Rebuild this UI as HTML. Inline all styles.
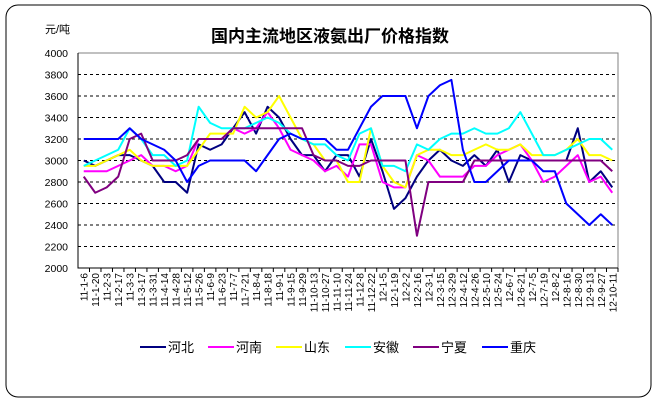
<!DOCTYPE html>
<html><head><meta charset="utf-8"><style>
body{margin:0;background:#fff;}
svg text{font-family:"Liberation Sans","Noto Sans CJK SC",sans-serif;}
</style></head><body>
<svg id="chart" width="658" height="403" xmlns="http://www.w3.org/2000/svg">
<rect x="6" y="5" width="645" height="392" rx="12" fill="#fff" stroke="#000" stroke-width="1"/>
<text x="330" y="42" text-anchor="middle" font-size="17" font-weight="bold">国内主流地区液氨出厂价格指数</text>
<text x="45" y="33" font-size="11">元/吨</text>
<g id="grid"></g>
<g id="axes"></g>
<g id="series"></g>
<g id="legend"></g>
</svg>
<script>
const categories=["11-1-6","11-1-20","11-2-3","11-2-17","11-3-3","11-3-17","11-3-31","11-4-14","11-4-28","11-5-12","11-5-26","11-6-9","11-6-23","11-7-7","11-7-21","11-8-4","11-8-18","11-9-1","11-9-15","11-9-29","11-10-13","11-10-27","11-11-10","11-11-24","11-12-8","11-12-22","12-1-5","12-1-19","12-2-2","12-2-16","12-3-1","12-3-15","12-3-29","12-4-12","12-4-26","12-5-10","12-5-24","12-6-7","12-6-21","12-7-5","12-7-19","12-8-2","12-8-16","12-8-30","12-9-13","12-9-27","12-10-11"];
const yTicks=[2000,2200,2400,2600,2800,3000,3200,3400,3600,3800,4000];
const seriesNames=["河北","河南","山东","安徽","宁夏","重庆"];
const hebei=[3000,2950,3000,3050,3050,3000,2950,2800,2800,2700,3150,3100,3150,3300,3450,3250,3500,3400,3200,3050,3050,2900,3050,3050,2850,3200,2900,2550,2650,2850,3000,3100,3000,2950,3050,2950,3100,2800,3050,3000,3000,3000,3000,3300,2800,2900,2750];
const henan=[2900,2900,2900,2950,3000,3050,2950,2950,2900,2950,3200,3200,3200,3300,3250,3300,3450,3300,3100,3050,3000,2900,2950,2850,3150,3150,2800,2750,2750,3050,3000,2850,2850,2850,2950,2950,3050,3100,3150,3000,2800,2850,2950,3050,2800,2850,2700];
const shandong=[2950,2950,3000,3050,3100,3000,2950,2950,2950,2950,3100,3250,3250,3250,3500,3400,3450,3600,3400,3200,3150,3000,3000,2800,2800,3300,2950,2800,2750,3050,3100,3100,3050,3050,3100,3150,3100,3100,3150,3050,3050,3050,3100,3200,3050,3050,3000];
const anhui=[2950,3000,3050,3100,3300,3200,3050,3050,2950,3000,3500,3350,3300,3300,3300,3350,3400,3350,3250,3200,3150,3150,3050,3000,3250,3300,2950,2950,2900,3150,3100,3200,3250,3250,3300,3250,3250,3300,3450,3250,3050,3050,3100,3150,3200,3200,3100];
const ningxia=[2850,2700,2750,2850,3200,3250,3000,3000,3000,3050,3200,3200,3200,3300,3300,3300,3300,3300,3300,3300,3050,3000,3000,2950,2950,3000,3000,3000,3000,2300,2800,2800,2800,2800,3000,3000,3000,3000,3000,3000,3000,3000,3000,3000,3000,3000,2900];
const chongqing=[3200,3200,3200,3200,3300,3200,3150,3100,3000,2800,2950,3000,3000,3000,3000,2900,3050,3200,3250,3200,3200,3200,3100,3100,3300,3500,3600,3600,3600,3300,3600,3700,3750,3100,2800,2800,2900,3000,3000,3000,2900,2900,2600,2500,2400,2500,2400];
const seriesData=[hebei,henan,shandong,anhui,ningxia,chongqing];
const colors=["#000080","#ff00ff","#ffff00","#00ffff","#800080","#0000ff"];
const NS="http://www.w3.org/2000/svg";
const L=78,R=618,T=53,B=268;
function x(i){return L+(i+0.5)*(R-L)/categories.length;}
function y(v){return B-(v-2000)/2000*(B-T);}
function mk(tag,attrs,parent){const e=document.createElementNS(NS,tag);for(const k in attrs)e.setAttribute(k,attrs[k]);parent.appendChild(e);return e;}
const grid=document.getElementById('grid'),axes=document.getElementById('axes'),ser=document.getElementById('series'),leg=document.getElementById('legend');
yTicks.forEach(v=>{
  if(v>2000&&v<4000){const g=mk('line',{x1:L,x2:R,y1:y(v),y2:y(v),stroke:'#000','stroke-dasharray':'3,3','stroke-width':1},grid);
  
  }
  const t=mk('text',{x:68,y:y(v)+4,'text-anchor':'end','font-size':10.5},axes);t.textContent=v;
  
  
});
const pb=mk('path',{d:`M${L},${T}H${R}V${B}`,fill:'none',stroke:'#808080','stroke-width':1},axes);


const ax=mk('path',{d:`M${L},${T}V${B}H${R}`,fill:'none',stroke:'#000','stroke-width':1},axes);


categories.forEach((c,i)=>{
  const tk=mk('line',{x1:x(i)+(R-L)/categories.length/2,x2:x(i)+(R-L)/categories.length/2,y1:B,y2:B+4,stroke:'#000'},axes);
  
  
  const t=mk('text',{x:0,y:0,'font-size':10,'text-anchor':'end',transform:`translate(${x(i)+4},${B+5}) rotate(-90)`},axes);
  t.textContent=c;
  
  
});
seriesData.forEach((d,s)=>{
  const p=mk('polyline',{points:d.map((v,i)=>x(i)+','+y(v)).join(' '),fill:'none',stroke:colors[s],'stroke-width':2,'stroke-linejoin':'round'},ser);
  
  
});
const lx=[140,208,276,345,413,482];
seriesNames.forEach((n,s)=>{
  const g=mk('g',{},leg);
  
  
  mk('line',{x1:lx[s],x2:lx[s]+26,y1:347,y2:347,stroke:colors[s],'stroke-width':2},g);
  const t=mk('text',{x:lx[s]+28,y:352,'font-size':13},g);t.textContent=n;
});
</script>
</body></html>
